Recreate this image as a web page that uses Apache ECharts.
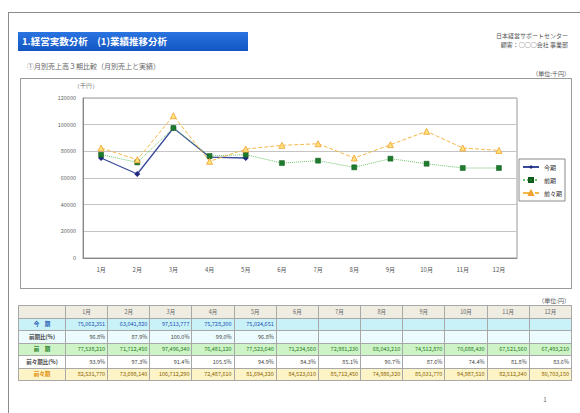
<!DOCTYPE html>
<html><head><meta charset="utf-8">
<script src="https://cdn.jsdelivr.net/npm/echarts@6/dist/echarts.min.js"></script>
<style>
html,body{margin:0;padding:0;background:#fff;width:580px;height:413px;overflow:hidden;font-family:"Noto Sans CJK JP","Noto Sans",sans-serif;}
.frame{position:absolute;left:8px;top:12px;width:620px;height:460px;border:1.5px solid #8c8c8c;}
.titlebar{position:absolute;left:18px;top:32px;width:230px;height:19px;background:linear-gradient(#2a74e0,#1256c4);color:#fff;font-weight:bold;font-size:9.5px;line-height:19px;padding-left:4px;box-sizing:border-box;white-space:nowrap;}
.sub{position:absolute;left:27px;top:61px;font-size:7px;color:#666;white-space:nowrap;}
.company{position:absolute;right:12px;top:31px;font-size:6px;color:#555;text-align:right;line-height:9px;}
.unit1{position:absolute;right:10px;top:69px;font-size:6px;color:#555;}
.box{position:absolute;left:20px;top:78px;width:552px;height:211px;border:1px solid #9a9a9a;box-sizing:border-box;}
#chart{position:absolute;left:20px;top:78px;width:552px;height:211px;}
.unit2{position:absolute;right:10px;top:296px;font-size:6px;color:#555;}
table{position:absolute;left:18px;top:305px;border-collapse:collapse;table-layout:fixed;width:554px;font-size:5.5px;}
td,th{border:1px solid #a8a8a8;height:11.5px;padding:0 2px;white-space:nowrap;overflow:hidden;text-align:right;font-weight:normal;}
th{background:#efece2;color:#666;text-align:center;}
td.lab{text-align:center;font-weight:bold;}
tr.r1 td{background:#c9f1f8;color:#1a4fb0;}
tr.r2 td{background:#ecfbfd;color:#444;}
tr.r3 td{background:#cdf3c6;color:#1d7a22;}
tr.r4 td{background:#ffffff;color:#444;}
tr.r5 td{background:#fcf3c6;color:#8a6200;}
tr.r5 td.lab{color:#e08a00;}
.pg{position:absolute;left:543px;top:394px;font-size:7px;color:#777;}
</style></head>
<body>
<div class="frame"></div>
<div class="titlebar">1.経営実数分析　(1)業績推移分析</div>
<div class="sub">①月別売上高３期比較（月別売上と実績）</div>
<div class="company">日本経営サポートセンター<br>顧客：○○○会社 事業部</div>
<div class="unit1">（単位:千円）</div>
<div class="box"></div>
<div id="chart"></div>
<div class="unit2">（単位:円）</div>
<table id="tbl"></table>
<div class="pg">1</div>
<script>
// ---- data ----
const months = ['1月','2月','3月','4月','5月','6月','7月','8月','9月','10月','11月','12月'];
const seriesNames = ['今期','前期','前々期'];
// chart values (千円)
const thisPeriod = [75000, 63000, 97500, 75700, 75000];
const lastPeriod = [77500, 71700, 97500, 76500, 77500, 71200, 73000, 68000, 74500, 70700, 67500, 67500];
const twoPeriodsAgo = [82500, 73700, 106700, 72500, 81700, 84500, 85700, 75000, 85000, 95000, 82500, 80700];
// table values (円)
const thisPeriodYen = [75062351, 63041820, 97513777, 75728300, 75024651];
const lastPeriodYen = [77538210, 71712450, 97496340, 76481120, 77523640, 71234560, 72981230, 68043210, 74512870, 70688430, 67521560, 67493210];
const twoPeriodsAgoYen = [82531770, 73698140, 106712290, 72487610, 81694320, 84523010, 85712450, 74986320, 85031770, 94987510, 82512340, 80703150];
const rowLabels = ['今　期','前期比(%)','前　期','前々期比(%)','前々期'];
const yTicks = {min:0, max:120000, interval:20000};

// ---- table ----
const fmt = v => v.toLocaleString('en-US');
const pct = (a,b) => (a/b*100).toFixed(1)+'%';
let html = '<colgroup><col style="width:47px">' + months.map(()=>'<col>').join('') + '</colgroup>';
html += '<tr><th></th>' + months.map(m=>'<th>'+m+'</th>').join('') + '</tr>';
const rows = [
  months.map((m,i)=> i<thisPeriodYen.length ? fmt(thisPeriodYen[i]) : ''),
  months.map((m,i)=> i<thisPeriodYen.length ? pct(thisPeriodYen[i], lastPeriodYen[i]) : ''),
  months.map((m,i)=> fmt(lastPeriodYen[i])),
  months.map((m,i)=> pct(lastPeriodYen[i], twoPeriodsAgoYen[i])),
  months.map((m,i)=> fmt(twoPeriodsAgoYen[i]))
];
rows.forEach((r,k)=>{
  html += '<tr class="r'+(k+1)+'"><td class="lab">'+rowLabels[k]+'</td>' + r.map(c=>'<td>'+c+'</td>').join('') + '</tr>';
});
document.getElementById('tbl').innerHTML = html;

// ---- chart ----
const chart = echarts.init(document.getElementById('chart'), null, {renderer:'svg'});
chart.setOption({
  animation:false,
  textStyle:{fontFamily:'"Noto Sans CJK JP","Noto Sans",sans-serif'},
  grid:{left:63, right:55, top:20, bottom:31, show:true, borderColor:'#9a9a9a', borderWidth:1},
  legend:{
    orient:'vertical', left:499, top:81, width:50,
    data:seriesNames,
    borderColor:'#8a8a8a', borderWidth:1, padding:[5,3,5,3], itemGap:7,
    itemWidth:16, itemHeight:5,
    textStyle:{fontSize:6, color:'#333'}, backgroundColor:'#fff'
  },
  graphic:[{type:'text', left:54, top:5, style:{text:'（千円）', fontSize:5.5, fill:'#666'}}],
  xAxis:{
    type:'category', data:months, boundaryGap:true,
    axisLine:{lineStyle:{color:'#888'}}, axisTick:{show:false},
    axisLabel:{fontSize:6, color:'#555', margin:8}
  },
  yAxis:{
    type:'value', min:yTicks.min, max:yTicks.max, interval:yTicks.interval,
    axisLine:{show:true, lineStyle:{color:'#888'}}, axisTick:{show:false},
    axisLabel:{fontSize:5.5, color:'#666', margin:7, formatter: v => String(v)},
    splitLine:{lineStyle:{color:'#c4c4c4', width:1}}
  },
  series:[
    {name:seriesNames[0], type:'line', data:thisPeriod, symbol:'diamond', symbolSize:6,
     itemStyle:{color:'#1f2a80'}, lineStyle:{color:'#3a4a9a', width:1.3}},
    {name:seriesNames[1], type:'line', data:lastPeriod, symbol:'rect', symbolSize:5,
     itemStyle:{color:'#1d7a2c', borderColor:'#0f5a1a', borderWidth:0.5}, lineStyle:{color:'#6cc46c', width:1, type:'dotted'}},
    {name:seriesNames[2], type:'line', data:twoPeriodsAgo, symbol:'triangle', symbolSize:6,
     itemStyle:{color:'#ffe27a', borderColor:'#f0a030', borderWidth:0.8}, lineStyle:{color:'#f5b848', width:1, type:'dashed'}}
  ]
});
</script>
</body></html>
